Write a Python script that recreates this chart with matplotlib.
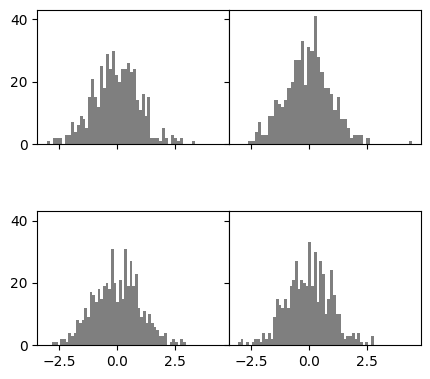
import numpy as np
import matplotlib
matplotlib.use("Agg")
import matplotlib.pyplot as plt

# 每个子图：直方图的范围（最小值、最大值）以及 50 个箱子的计数
tl_range = (-3.03, 3.35)
tl_counts = [1, 0, 2, 2, 2, 0, 3, 3, 7, 4, 6, 9, 8, 5, 15, 21, 15, 12, 25, 18,
             29, 24, 30, 22, 20, 24, 24, 26, 23, 24, 14, 11, 16, 9, 15, 2, 2, 2, 1, 5,
             2, 0, 3, 2, 1, 2, 0, 0, 0, 1]

tr_range = (-2.64, 4.47)
tr_counts = [1, 1, 4, 7, 3, 3, 9, 9, 14, 13, 12, 14, 18, 20, 27, 27, 33, 19, 31, 30,
             41, 28, 23, 18, 18, 16, 11, 15, 8, 8, 5, 2, 3, 3, 3, 0, 2, 0, 0, 0,
             0, 0, 0, 0, 0, 0, 0, 0, 0, 1]

bl_range = (-2.81, 2.96)
bl_counts = [1, 1, 0, 2, 2, 1, 4, 3, 4, 8, 7, 8, 12, 9, 17, 16, 14, 18, 15, 19,
             20, 18, 31, 20, 14, 21, 15, 31, 19, 27, 19, 23, 12, 9, 11, 7, 10, 7, 6, 5,
             3, 3, 4, 0, 1, 2, 1, 0, 2, 1]

br_range = (-3.07, 2.79)
br_counts = [1, 2, 0, 1, 0, 1, 2, 2, 1, 4, 2, 4, 2, 9, 15, 13, 12, 15, 12, 19,
             21, 27, 18, 21, 20, 19, 33, 19, 30, 14, 27, 23, 10, 15, 24, 16, 10, 10, 4, 2,
             3, 3, 4, 2, 4, 1, 0, 1, 0, 3]

panels = [[(tl_range, tl_counts), (tr_range, tr_counts)],
          [(bl_range, bl_counts), (br_range, br_counts)]]

fig, axes = plt.subplots(2, 2, sharex=True, sharey=True, figsize=(4.31, 3.79), dpi=100)
for i in range(2):
    for j in range(2):
        (lo, hi), counts = panels[i][j]
        edges = np.linspace(lo, hi, len(counts) + 1)
        axes[i, j].hist(edges[:-1], bins=edges, weights=counts, color='k', alpha=0.5)
axes[0, 0].set_xticks([-2.5, 0, 2.5])
axes[0, 0].set_yticks([0, 20, 40])
plt.subplots_adjust(left=0.087, right=0.977, top=0.974, bottom=0.089, wspace=0, hspace=0.5)
plt.savefig("out.png", dpi=100)
